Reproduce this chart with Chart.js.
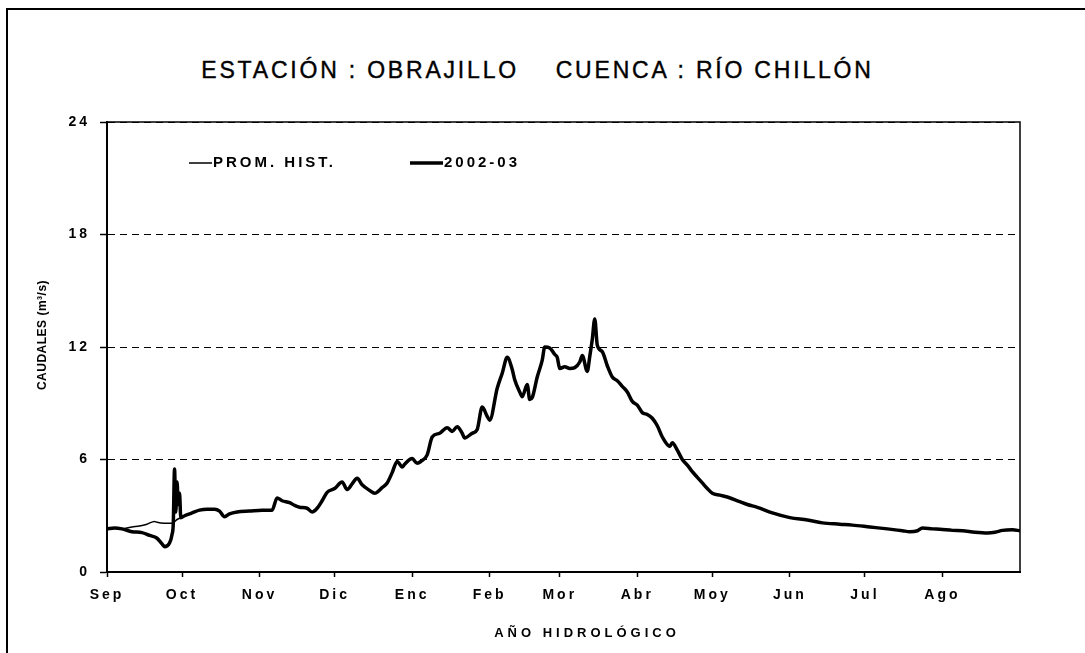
<!DOCTYPE html>
<html>
<head>
<meta charset="utf-8">
<script src="https://cdn.jsdelivr.net/npm/chart.js@4.4.1/dist/chart.umd.min.js"></script>
<style>
  html, body { margin: 0; padding: 0; background: #fff; }
  #wrap { position: relative; width: 1085px; height: 653px; overflow: hidden; }
  #frame { position: absolute; left: 6px; top: 8px; width: 1100px; height: 700px; border-left: 2px solid #000; border-top: 2px solid #000; }
  #title { position: absolute; left: 0; top: 57px; width: 1075px; text-align: center; font: 23px "Liberation Sans", Arial, sans-serif; letter-spacing: 2.8px; color: #000; white-space: pre; -webkit-text-stroke: 0.4px #000; }
  canvas { position: absolute; left: 0; top: 0; }
</style>
</head>
<body>
<div id="wrap">
  <div id="frame"></div>
  <div id="title">ESTACIÓN : OBRAJILLO    CUENCA : RÍO CHILLÓN</div>
  <canvas id="chart" width="1085" height="653"></canvas>
</div>
<script>
// eje x: dias del año hidrologico (0 = 1 de setiembre)
const monthStarts = [0, 30, 61, 91, 122, 153, 181, 212, 242, 273, 303, 334];
const monthLabels = ["Sep", "Oct", "Nov", "Dic", "Enc", "Feb", "Mor", "Abr", "Moy", "Jun", "Jul", "Ago"];
const yTicks = [0, 6, 12, 18, 24];

// caudales 2002-03 (m3/s)
const days2002 = [0, 3, 6, 10, 14, 17, 20, 22, 23, 25, 26, 26.5, 27, 27.5, 28, 28.5, 29, 29.5,
  31, 34, 37, 40, 43, 45, 47, 49, 52, 57, 62, 66, 68, 70, 73, 75, 77, 80, 82, 84, 86, 88,
  91, 94, 96, 98, 100, 102, 105, 107, 110, 112, 114, 116, 118, 119, 122, 124, 126, 128, 130,
  133, 136, 138, 140, 142, 143, 146, 148, 150, 152, 153, 156, 158, 160, 162, 163, 165, 166,
  168, 169, 170, 172, 174, 175, 177, 179, 180, 181, 183, 185, 187, 189, 190, 192, 193, 194,
  195, 196, 198, 200, 202, 204, 206, 208, 210, 212, 214, 216, 218, 220, 222, 225, 226, 228,
  230, 232, 234, 236, 238, 240, 242, 245, 248, 253, 256, 260, 266, 273, 280, 286, 293, 298,
  305, 312, 318, 321, 324, 326, 330, 333, 338, 342, 347, 352, 355, 358, 362, 365];
const flow2002 = [2.3, 2.35, 2.3, 2.15, 2.1, 1.95, 1.8, 1.5, 1.35, 1.55, 2.0, 2.6, 5.5, 3.2, 4.8, 3.6, 4.2, 2.9,
  3.0, 3.15, 3.3, 3.35, 3.35, 3.25, 2.95, 3.1, 3.2, 3.25, 3.3, 3.3, 3.95, 3.8, 3.7, 3.55, 3.45, 3.4, 3.2, 3.4, 3.8, 4.25,
  4.45, 4.8, 4.4, 4.7, 5.0, 4.65, 4.35, 4.2, 4.5, 4.75, 5.3, 5.9, 5.6, 5.75, 6.05, 5.8, 5.95, 6.25, 7.2,
  7.4, 7.7, 7.5, 7.75, 7.4, 7.15, 7.4, 7.6, 8.8, 8.3, 8.1, 9.8, 10.6, 11.45, 10.8, 10.25, 9.6, 9.35,
  10.0, 9.2, 9.3, 10.4, 11.3, 12.0, 11.95, 11.6, 11.45, 10.85, 10.95, 10.85, 10.9, 11.2, 11.55, 10.7, 11.5, 12.4,
  13.5, 12.1, 11.75, 11.0, 10.4, 10.2, 9.9, 9.6, 9.1, 8.9, 8.5, 8.4, 8.2, 7.8, 7.2, 6.7, 6.9, 6.5,
  6.0, 5.7, 5.35, 5.05, 4.75, 4.45, 4.2, 4.1, 4.0, 3.75, 3.6, 3.45, 3.15, 2.9, 2.77, 2.62, 2.55, 2.5,
  2.4, 2.3, 2.2, 2.15, 2.2, 2.35, 2.3, 2.28, 2.22, 2.2, 2.12, 2.08, 2.12, 2.22, 2.25, 2.2];

// promedio historico (m3/s)
const daysProm = [0, 3, 6, 10, 13, 16, 19, 20, 23, 26, 28, 29.5,
  31, 34, 37, 40, 43, 45, 47, 49, 52, 57, 62, 66, 68, 70, 73, 75, 77, 80, 82, 84, 86, 88,
  91, 94, 96, 98, 100, 102, 105, 107, 110, 112, 114, 116, 118, 119, 122, 124, 126, 128, 130,
  133, 136, 138, 140, 142, 143, 146, 148, 150, 152, 153, 156, 158, 160, 162, 163, 165, 166,
  168, 169, 170, 172, 174, 175, 177, 179, 180, 181, 183, 185, 187, 189, 190, 192, 193, 194,
  195, 196, 198, 200, 202, 204, 206, 208, 210, 212, 214, 216, 218, 220, 222, 225, 226, 228,
  230, 232, 234, 236, 238, 240, 242, 245, 248, 253, 256, 260, 266, 273, 280, 286, 293, 298,
  305, 312, 318, 321, 324, 326, 330, 333, 338, 342, 347, 352, 355, 358, 362, 365];
const flowProm = [2.3, 2.35, 2.3, 2.4, 2.45, 2.55, 2.7, 2.65, 2.6, 2.6, 2.8, 2.9,
  3.0, 3.15, 3.3, 3.35, 3.35, 3.25, 2.95, 3.1, 3.2, 3.25, 3.3, 3.3, 3.95, 3.8, 3.7, 3.55, 3.45, 3.4, 3.2, 3.4, 3.8, 4.25,
  4.45, 4.8, 4.4, 4.7, 5.0, 4.65, 4.35, 4.2, 4.5, 4.75, 5.3, 5.9, 5.6, 5.75, 6.05, 5.8, 5.95, 6.25, 7.2,
  7.4, 7.7, 7.5, 7.75, 7.4, 7.15, 7.4, 7.6, 8.8, 8.3, 8.1, 9.8, 10.6, 11.45, 10.8, 10.25, 9.6, 9.35,
  10.0, 9.2, 9.3, 10.4, 11.3, 12.0, 11.95, 11.6, 11.45, 10.85, 10.95, 10.85, 10.9, 11.2, 11.55, 10.7, 11.5, 12.4,
  13.5, 12.1, 11.75, 11.0, 10.4, 10.2, 9.9, 9.6, 9.1, 8.9, 8.5, 8.4, 8.2, 7.8, 7.2, 6.7, 6.9, 6.5,
  6.0, 5.7, 5.35, 5.05, 4.75, 4.45, 4.2, 4.1, 4.0, 3.75, 3.6, 3.45, 3.15, 2.9, 2.77, 2.62, 2.55, 2.5,
  2.4, 2.3, 2.2, 2.15, 2.2, 2.35, 2.3, 2.28, 2.22, 2.2, 2.12, 2.08, 2.12, 2.22, 2.25, 2.2];

const FONT = '"Liberation Sans", Arial, sans-serif';

const toPoints = (xs, ys) => xs.map((x, i) => ({ x: x, y: ys[i] }));

// espaciado de letras como en el original escaneado
const spacingPlugin = {
  id: "spacing",
  beforeUpdate(chart) { chart.ctx.letterSpacing = "3px"; },
  beforeDraw(chart) { chart.ctx.letterSpacing = "3px"; },
};

// marco del area, leyenda interior y titulos de ejes
const extrasPlugin = {
  id: "extras",
  afterDraw(chart) {
    const ctx = chart.ctx;
    const a = chart.chartArea;
    ctx.save();
    ctx.strokeStyle = "#000";
    ctx.lineWidth = 1.5;
    ctx.strokeRect(a.left, a.top, a.right - a.left, a.bottom - a.top);

    // leyenda
    ctx.letterSpacing = "3px";
    ctx.font = "bold 15px " + FONT;
    ctx.fillStyle = "#000";
    ctx.textBaseline = "middle";
    ctx.textAlign = "left";
    const items = [{ x: a.left + 82, w: 23 }, { x: a.left + 303, w: 33 }];
    chart.data.datasets.forEach((ds, i) => {
      const it = items[i];
      const y = a.top + 41;
      ctx.strokeStyle = ds.borderColor;
      ctx.lineWidth = ds.borderWidth;
      ctx.beginPath();
      ctx.moveTo(it.x, y);
      ctx.lineTo(it.x + it.w, y);
      ctx.stroke();
      ctx.fillText(ds.label, it.x + it.w + 1, y);
    });

    // titulo eje x
    ctx.letterSpacing = "4px";
    ctx.font = "bold 13px " + FONT;
    ctx.textAlign = "center";
    ctx.fillText("AÑO HIDROLÓGICO", a.left + 480, 633);

    // titulo eje y
    ctx.letterSpacing = "0.5px";
    ctx.font = "bold 12px " + FONT;
    ctx.translate(43, 335);
    ctx.rotate(-Math.PI / 2);
    ctx.fillText("CAUDALES (m³/s)", 0, 0);
    ctx.restore();
  },
};

new Chart(document.getElementById("chart"), {
  type: "line",
  data: {
    datasets: [
      {
        label: "PROM. HIST.",
        data: toPoints(daysProm, flowProm),
        borderColor: "#000",
        borderWidth: 1.5,
        pointRadius: 0,
        cubicInterpolationMode: "monotone",
      },
      {
        label: "2002-03",
        data: toPoints(days2002, flow2002),
        borderColor: "#000",
        borderWidth: 3.5,
        pointRadius: 0,
        cubicInterpolationMode: "monotone",
      },
    ],
  },
  options: {
    responsive: false,
    animation: false,
    events: [],
    layout: { padding: { left: 20, right: 65, top: 122, bottom: 6 } },
    plugins: {
      legend: { display: false },
      tooltip: { enabled: false },
    },
    scales: {
      x: {
        type: "linear",
        min: 0,
        max: 365,
        afterBuildTicks: (s) => { s.ticks = monthStarts.map((v) => ({ value: v })); },
        afterFit: (s) => { s.height = 75; },
        ticks: {
          autoSkip: false,
          maxRotation: 0,
          color: "#000",
          padding: 10,
          font: { family: FONT, size: 14, weight: "bold" },
          callback: (v, i) => monthLabels[i],
        },
        grid: { drawOnChartArea: false, tickLength: 5, tickColor: "#000", tickWidth: 1.5 },
        border: { display: true, color: "#000", width: 2 },
      },
      y: {
        min: 0,
        max: 24,
        afterBuildTicks: (s) => { s.ticks = yTicks.map((v) => ({ value: v })); },
        afterFit: (s) => { s.width = 87; },
        ticks: {
          color: "#000",
          padding: 10,
          font: { family: FONT, size: 14, weight: "bold" },
        },
        grid: { color: "#000", lineWidth: 1, tickLength: 7, tickColor: "#000", tickWidth: 1.5 },
        border: { display: true, color: "#000", width: 2, dash: [7, 5] },
      },
    },
  },
  plugins: [spacingPlugin, extrasPlugin],
});
</script>
</body>
</html>
